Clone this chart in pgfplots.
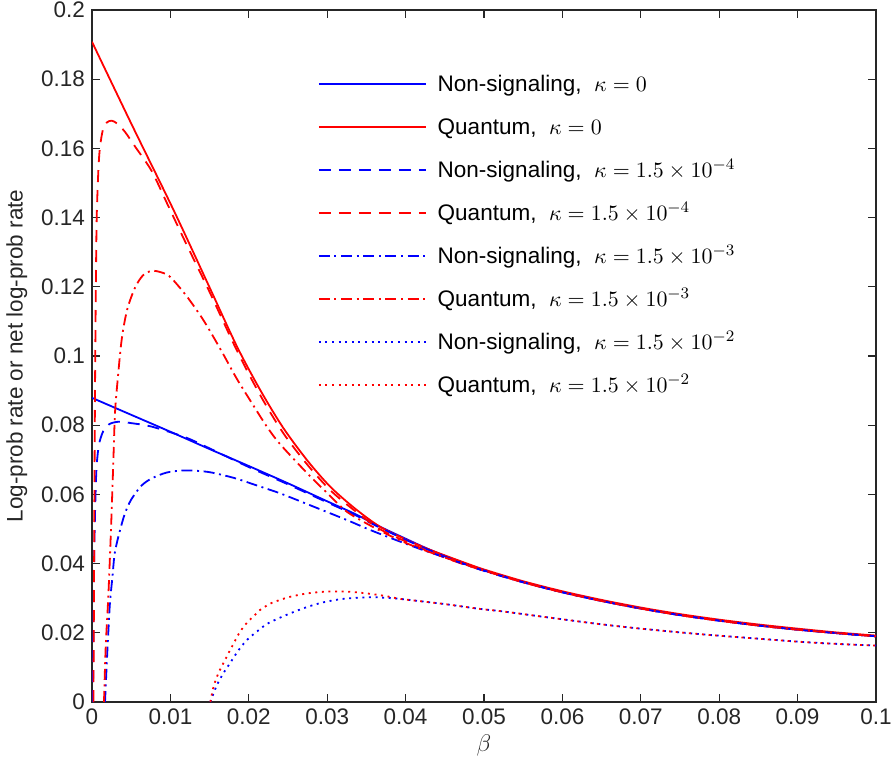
\documentclass[border=0pt]{standalone}
\usepackage{pgfplots}
\pgfplotsset{compat=1.18}
\usepackage{fontspec}
\setmainfont{Liberation Sans}
\usetikzlibrary{calc}
\definecolor{mgray}{gray}{0.15}
\definecolor{mblue}{rgb}{0,0,1}
\definecolor{mred}{rgb}{1,0,0}
\tikzset{
  mdashed/.style={dash pattern=on 6pt off 4pt},
  mdashdot/.style={dash pattern=on 5.5pt off 2.3pt on 1pt off 2.3pt},
  mdotted/.style={dash pattern=on 1pt off 2.3pt},
}
\begin{document}
\begin{tikzpicture}[font=\fontsize{11.25}{13.5}\selectfont]
\begin{axis}[
  scale only axis,
  width=392pt, height=346pt,
  xmin=0, xmax=0.1, ymin=0, ymax=0.2,
  xtick={0,0.01,0.02,0.03,0.04,0.05,0.06,0.07,0.08,0.09,0.1},
  xticklabels={0,0.01,0.02,0.03,0.04,0.05,0.06,0.07,0.08,0.09,0.1},
  ytick={0,0.02,0.04,0.06,0.08,0.1,0.12,0.14,0.16,0.18,0.2},
  yticklabels={0,0.02,0.04,0.06,0.08,0.1,0.12,0.14,0.16,0.18,0.2},
  /pgf/number format/assume math mode=true,
  tick align=inside,
  major tick length=4pt,
  axis line style={mgray, line width=0.6pt},
  tick style={mgray, line width=0.6pt},
  tick label style={text=mgray},
  label style={text=mgray},
  xlabel={$\beta$},
  ylabel={Log-prob rate or net log-prob rate},
  xlabel style={yshift=2pt, font=\fontsize{12.5}{14}\selectfont},
  legend cell align=left,
  legend style={at={(0.28,0.93)}, anchor=north west, draw=none, fill=none,
    row sep=0pt, column sep=4.5pt,
    nodes={inner sep=1pt, text height=13.5pt, text depth=6pt, text=black}},
  legend image code/.code={\draw[#1] (0pt,0pt) -- (53.5pt,0pt);},
]
\addlegendimage{color=mblue, line width=0.9pt}
\addlegendentry{Non-signaling, \ $\kappa = 0$}
\addlegendimage{color=mred, line width=0.9pt}
\addlegendentry{Quantum, \ $\kappa = 0$}
\addlegendimage{color=mblue, line width=0.9pt, mdashed}
\addlegendentry{Non-signaling, \ $\kappa = 1.5\times 10^{-4}$}
\addlegendimage{color=mred, line width=0.9pt, mdashed}
\addlegendentry{Quantum, \ $\kappa = 1.5\times 10^{-4}$}
\addlegendimage{color=mblue, line width=0.9pt, mdashdot}
\addlegendentry{Non-signaling, \ $\kappa = 1.5\times 10^{-3}$}
\addlegendimage{color=mred, line width=0.9pt, mdashdot}
\addlegendentry{Quantum, \ $\kappa = 1.5\times 10^{-3}$}
\addlegendimage{color=mblue, line width=0.9pt, mdotted}
\addlegendentry{Non-signaling, \ $\kappa = 1.5\times 10^{-2}$}
\addlegendimage{color=mred, line width=0.9pt, mdotted}
\addlegendentry{Quantum, \ $\kappa = 1.5\times 10^{-2}$}
% Non-signaling, kappa = 0
\addplot[forget plot, color=mblue, line width=0.9pt, smooth, tension=0.5] coordinates {
(0,0.0879) (0.005,0.0830) (0.01,0.0781) (0.015,0.0731) (0.02,0.0682) (0.025,0.0632)
(0.03,0.0580) (0.0335,0.0544) (0.0367,0.0507) (0.04,0.0472) (0.0431,0.0440) (0.047,0.0405)
(0.05,0.0381) (0.055,0.0347) (0.06,0.0318) (0.065,0.0293) (0.07,0.0271) (0.075,0.0252)
(0.08,0.0236) (0.085,0.0222) (0.09,0.0210) (0.095,0.0199) (0.1,0.0190)};
% Quantum, kappa = 0
\addplot[forget plot, color=mred, line width=0.9pt, smooth, tension=0.5] coordinates {
(0,0.1908) (0.005,0.1672) (0.0104,0.1422) (0.015,0.1198) (0.0185,0.1027) (0.0215,0.0900)
(0.0244,0.0792) (0.0275,0.0697) (0.0304,0.0622) (0.0335,0.0560) (0.0367,0.0507) (0.04,0.0470)
(0.0431,0.0440) (0.047,0.0407) (0.05,0.0383) (0.055,0.0349) (0.06,0.0320) (0.065,0.0295)
(0.07,0.0273) (0.075,0.0254) (0.08,0.0238) (0.085,0.0224) (0.09,0.0212) (0.095,0.0201) (0.1,0.0192)};
% Non-signaling, kappa = 1.5e-4
\addplot[forget plot, color=mblue, line width=0.9pt, mdashed, smooth, tension=0.5] coordinates {
(0.00012,0) (0.0002,0.025) (0.0003,0.045) (0.00045,0.060) (0.0006,0.0685) (0.0009,0.0745)
(0.00144,0.0783) (0.0022,0.0803) (0.0034,0.0810) (0.005,0.0806) (0.0076,0.0796) (0.0119,0.0765)
(0.015,0.0733) (0.02,0.0679) (0.025,0.0629) (0.03,0.0577) (0.0335,0.0541) (0.0367,0.0504)
(0.04,0.0469) (0.0431,0.0438) (0.047,0.0403) (0.05,0.0380) (0.055,0.0346) (0.06,0.0317)
(0.065,0.0292) (0.07,0.0270) (0.075,0.0251) (0.08,0.0235) (0.085,0.0221) (0.09,0.0209)
(0.095,0.0199) (0.1,0.0190)};
% Quantum, kappa = 1.5e-4
\addplot[forget plot, color=mred, line width=0.9pt, mdashed, smooth, tension=0.5] coordinates {
(0.00018,0) (0.00025,0.03) (0.00032,0.065) (0.0004,0.095) (0.0005,0.122) (0.0006,0.140)
(0.0008,0.153) (0.001,0.160) (0.0014,0.1655) (0.0019,0.1675) (0.0025,0.168) (0.0032,0.1672)
(0.0042,0.1648) (0.0055,0.1605) (0.0076,0.1535) (0.0097,0.1435) (0.012,0.1325) (0.015,0.1185)
(0.0185,0.1015) (0.0215,0.0885) (0.0244,0.0777) (0.0275,0.0685) (0.0304,0.0612) (0.0335,0.0553)
(0.0367,0.0500) (0.04,0.0464) (0.0431,0.0434) (0.047,0.0401) (0.05,0.0380) (0.055,0.0346)
(0.06,0.0317) (0.065,0.0292) (0.07,0.0270) (0.075,0.0251) (0.08,0.0235) (0.085,0.0221)
(0.09,0.0209) (0.095,0.0199) (0.1,0.0190)};
% Non-signaling, kappa = 1.5e-3
\addplot[forget plot, color=mblue, line width=0.9pt, mdashdot, smooth, tension=0.5] coordinates {
(0.00166,0) (0.0019,0.012) (0.0021,0.021) (0.0023,0.029) (0.0026,0.036) (0.0029,0.043)
(0.0035,0.049) (0.0042,0.0545) (0.005,0.0585) (0.0063,0.0625) (0.0076,0.0646) (0.0095,0.0663)
(0.0115,0.0669) (0.0135,0.0668) (0.0153,0.0663) (0.0182,0.0647) (0.021,0.0626) (0.024,0.0603)
(0.028,0.0567) (0.0325,0.0526) (0.0355,0.0497) (0.0389,0.0467) (0.042,0.0441) (0.045,0.0418)
(0.05,0.0379) (0.055,0.0346) (0.06,0.0317) (0.065,0.0292) (0.07,0.0270) (0.075,0.0251)
(0.08,0.0235) (0.085,0.0221) (0.09,0.0209) (0.095,0.0199) (0.1,0.0190)};
% Quantum, kappa = 1.5e-3
\addplot[forget plot, color=mred, line width=0.9pt, mdashdot, smooth, tension=0.5] coordinates {
(0.00153,0) (0.00175,0.016) (0.00208,0.0304) (0.00242,0.0497) (0.0027,0.068) (0.00293,0.0834)
(0.00327,0.093) (0.0038,0.105) (0.0045,0.1135) (0.0055,0.1198) (0.0065,0.1233) (0.0076,0.1246)
(0.0088,0.1242) (0.00995,0.1229) (0.012,0.1175) (0.0142,0.1104) (0.0165,0.1015) (0.01845,0.0935)
(0.0205,0.0860) (0.0223,0.0796) (0.024,0.0745) (0.0275,0.0660) (0.0304,0.0595) (0.0325,0.0550)
(0.0355,0.0510) (0.039,0.0470) (0.042,0.0442) (0.047,0.0402) (0.05,0.0380) (0.055,0.0346)
(0.06,0.0317) (0.065,0.0292) (0.07,0.0270) (0.075,0.0251) (0.08,0.0235) (0.085,0.0221)
(0.09,0.0209) (0.095,0.0199) (0.1,0.0190)};
% Non-signaling, kappa = 1.5e-2
\addplot[forget plot, color=mblue, line width=0.9pt, mdotted, smooth, tension=0.5] coordinates {
(0.0151,0) (0.0155,0.0025) (0.016,0.0052) (0.01675,0.0083) (0.0176,0.0112) (0.0187,0.0150)
(0.0198,0.0180) (0.021,0.0203) (0.0225,0.0228) (0.02526,0.0256) (0.0275,0.0275) (0.0295,0.0288)
(0.032,0.0298) (0.0355,0.0303) (0.0375,0.0301) (0.0393,0.0298) (0.042,0.0291) (0.045,0.0283)
(0.0495,0.0269) (0.052,0.0263) (0.055,0.0254) (0.06,0.0239) (0.0648,0.0225) (0.07,0.0212)
(0.0776,0.0196) (0.085,0.0183) (0.0903,0.0174) (0.095,0.0168) (0.1,0.0163)};
% Quantum, kappa = 1.5e-2
\addplot[forget plot, color=mred, line width=0.9pt, mdotted, smooth, tension=0.5] coordinates {
(0.0151,0) (0.0154,0.0035) (0.0158,0.0065) (0.0163,0.0092) (0.01675,0.0112) (0.0175,0.0145)
(0.0182,0.0175) (0.01888,0.0203) (0.0198,0.0230) (0.0208,0.0252) (0.02143,0.0266) (0.023,0.0287)
(0.02526,0.0304) (0.0275,0.0314) (0.0299,0.0319) (0.0325,0.0319) (0.035,0.0314) (0.0375,0.0306)
(0.0393,0.0298) (0.042,0.0291) (0.045,0.0283) (0.0495,0.0269) (0.052,0.0263) (0.055,0.0254)
(0.06,0.0239) (0.0648,0.0225) (0.07,0.0212) (0.0776,0.0196) (0.085,0.0183) (0.0903,0.0174)
(0.095,0.0168) (0.1,0.0163)};
\end{axis}
\pgfresetboundingbox
\path[use as bounding box] ($(current axis.south west)+(-46pt,-34pt)$) rectangle ($(current axis.north east)+(8pt,5pt)$);
\end{tikzpicture}
\end{document}
